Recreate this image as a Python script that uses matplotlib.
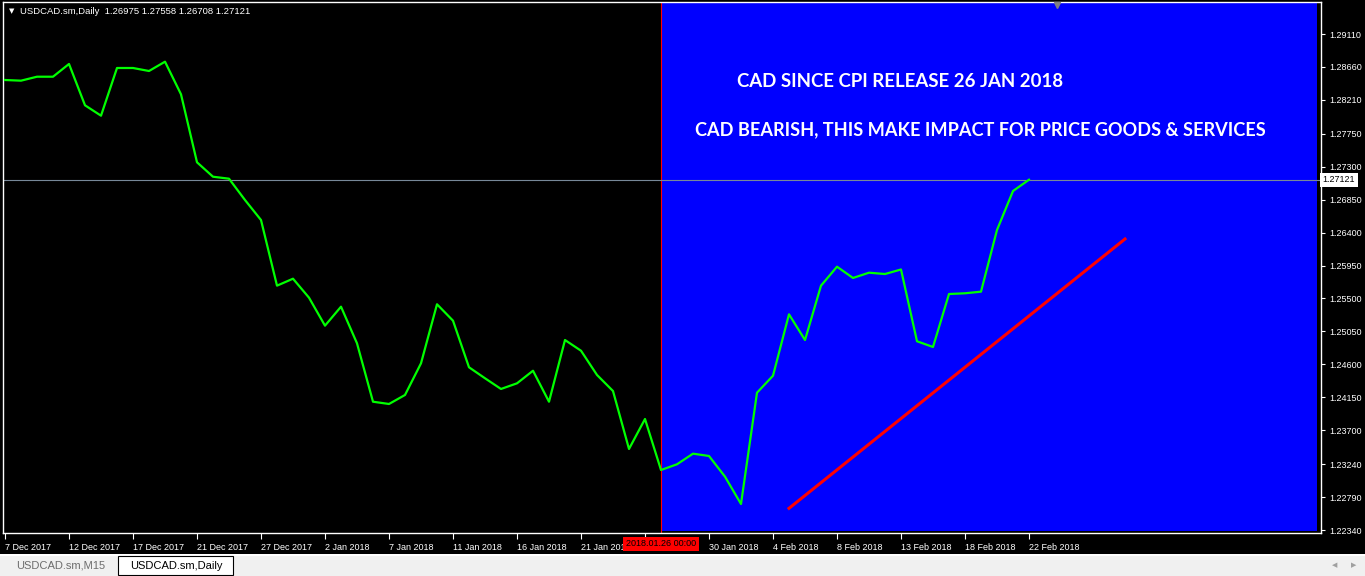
import numpy as np
import matplotlib.pyplot as plt
import matplotlib.transforms as mtransforms
from matplotlib.patches import Rectangle

# daily closes, USDCAD.sm (one value per bar, 7 Dec 2017 .. 22 Feb 2018)
closes = [1.28482, 1.28473, 1.28527, 1.28527, 1.28701, 1.28137, 1.27995, 1.28646, 1.28646, 1.28605,
          1.28732, 1.28287, 1.27359, 1.27162, 1.27135, 1.26844, 1.26571, 1.25675, 1.25770, 1.25511,
          1.25129, 1.25388, 1.24888, 1.24091, 1.24060, 1.24183, 1.24615, 1.25421, 1.25197, 1.24561,
          1.24411, 1.24265, 1.24342, 1.24514, 1.24091, 1.24933, 1.24787, 1.24456, 1.24237, 1.23446,
          1.23855, 1.23159, 1.23237, 1.23382, 1.23350, 1.23068, 1.22695, 1.24214, 1.24446, 1.25284,
          1.24933, 1.25675, 1.25934, 1.25780, 1.25852, 1.25834, 1.25896, 1.24916, 1.24838, 1.25561,
          1.25571, 1.25593, 1.26435, 1.26967, 1.27121]

# the label at bar 40 sits under the red period label, so it stays blank
date_labels = ["7 Dec 2017", "12 Dec 2017", "17 Dec 2017", "21 Dec 2017", "27 Dec 2017",
               "2 Jan 2018", "7 Jan 2018", "11 Jan 2018", "16 Jan 2018", "21 Jan 2018",
               "", "30 Jan 2018", "4 Feb 2018", "8 Feb 2018", "13 Feb 2018",
               "18 Feb 2018", "22 Feb 2018"]
label_bars = list(range(0, 65, 4))

price_ticks = [1.29110, 1.28660, 1.28210, 1.27750, 1.27300, 1.26850, 1.26400, 1.25950,
               1.25500, 1.25050, 1.24600, 1.24150, 1.23700, 1.23240, 1.22790, 1.22340]

header = "USDCAD.sm,Daily  1.26975 1.27558 1.26708 1.27121"
last_price = 1.27121
event_bar = 41
event_label = "2018.01.26 00:00"
zone_end_bar = 82

trend_bars = [49, 70]
trend_prices = [1.22636, 1.26312]

notes = ["CAD SINCE CPI RELEASE 26 JAN 2018",
         "CAD BEARISH, THIS MAKE IMPACT FOR PRICE GOODS & SERVICES"]
note_bars = [45.75, 43.1]
note_prices = [1.28455, 1.27800]
note_widths = [329, 572]  # pixels

tabs = ["USDCAD.sm,M15", "USDCAD.sm,Daily"]

W, H = 1365, 576
plt.rcParams['font.family'] = ['Liberation Sans', 'DejaVu Sans']
fig = plt.figure(figsize=(W / 100, H / 100), dpi=100, facecolor='black')

# main chart area
ax = fig.add_axes([3 / W, (H - 533) / H, 1318 / W, 531 / H])
ax.set_facecolor('black')
bar_px = 16
k = (price_ticks[0] - price_ticks[-1]) / 496  # price per pixel
ax.set_xlim(-2 / bar_px, 1316 / bar_px)
ax.set_ylim(price_ticks[0] - 499 * k, price_ticks[0] + 32 * k)

ax.axvspan(event_bar, zone_end_bar, ymin=2 / 531, ymax=1, color='#0000ff', lw=0, zorder=1)
ax.axvline(event_bar, color='red', lw=0.8, zorder=2)
ax.axhline(last_price, color='#778899', lw=0.8, zorder=2)

bars = np.arange(len(closes))
ax.plot(bars, closes, color='#00ff00', lw=1.6, zorder=3)
ax.plot(trend_bars, trend_prices, color='red', lw=2.2, zorder=3)

for s in ax.spines.values():
    s.set_color('white')
    s.set_linewidth(1)

ax.yaxis.tick_right()
ax.set_yticks(price_ticks, [f"{v:.5f}" for v in price_ticks])
ax.tick_params(axis='y', colors='white', length=3, width=0.8, labelsize=6.5, pad=3)
ax.set_xticks(label_bars, date_labels)
ax.tick_params(axis='x', colors='white', length=4, width=0.8, labelsize=6.5, pad=3)
for t in ax.get_xticklabels():
    t.set_ha('left')

blend_x = mtransforms.blended_transform_factory(ax.transData, ax.transAxes)
ax.text(event_bar, -11 / 531, event_label, transform=blend_x, ha='center', va='center',
        fontsize=6.5, color='black', zorder=10, clip_on=False,
        bbox=dict(facecolor='red', edgecolor='none', boxstyle='square,pad=0.3'))

blend_y = mtransforms.blended_transform_factory(ax.transAxes, ax.transData)
ax.text(1.0012, last_price, f"{last_price:.5f}", transform=blend_y, ha='left', va='center',
        fontsize=6.5, color='black', zorder=10, clip_on=False,
        bbox=dict(facecolor='white', edgecolor='none', boxstyle='square,pad=0.3'))

# chart shift marker
ax.plot([0.7995], [0.994], marker='v', ms=5, color='#808080', transform=ax.transAxes,
        clip_on=False, zorder=5)

# text notes inside the blue zone
note_texts = []
for txt, xb, yp in zip(notes, note_bars, note_prices):
    note_texts.append(ax.text(xb, yp, txt, color='white', fontfamily='Lato', fontweight='bold',
                              fontsize=14, ha='left', va='center', zorder=6))
fig.canvas.draw()
r = fig.canvas.get_renderer()
for t, w in zip(note_texts, note_widths):
    cur = t.get_window_extent(r).width
    t.set_fontsize(14 * w / cur)

# header
fig.text(12 / W, 1 - 11 / H, "\u25bc", color='white', fontsize=5, ha='center', va='center',
         family='DejaVu Sans')
fig.text(20 / W, 1 - 11 / H, header, color='white', fontsize=6.8, ha='left', va='center')

# tab bar at the bottom
tab_ax = fig.add_axes([0, 0, 1, 24 / H])
tab_ax.set_xlim(0, W)
tab_ax.set_ylim(H, H - 24)
tab_ax.axis('off')
tab_ax.add_patch(Rectangle((0, 554), W, 1.5, facecolor='white', edgecolor='none'))
tab_ax.add_patch(Rectangle((0, 555.5), W, 21, facecolor='#f0f0f0', edgecolor='none'))
tab_ax.add_patch(Rectangle((118, 555.5), 115, 19.5, facecolor='white', edgecolor='black', lw=0.8))
tab_ax.text(61, 566, tabs[0], color='#6d6d6d', fontsize=8, ha='center', va='center')
tab_ax.text(176, 566, tabs[1], color='black', fontsize=8, ha='center', va='center')
tab_ax.text(1335, 565, "\u25c0", color='#a0a0a0', fontsize=5, ha='center', va='center',
            family='DejaVu Sans')
tab_ax.text(1354, 565, "\u25b6", color='#a0a0a0', fontsize=5, ha='center', va='center',
            family='DejaVu Sans')

fig.savefig("out.png", dpi=100, facecolor='black')
